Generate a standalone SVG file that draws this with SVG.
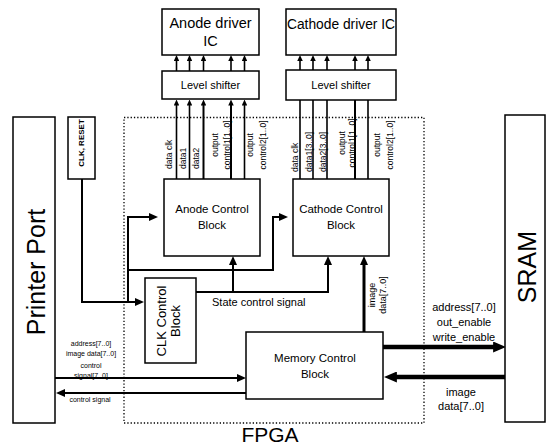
<svg xmlns="http://www.w3.org/2000/svg" width="556" height="448" viewBox="0 0 556 448">
<style>
.box{fill:#fff;stroke:#000;stroke-width:1.5}
.fpga{fill:none;stroke:#000;stroke-width:1.3;stroke-dasharray:1.3 2}
.t{font-family:"Liberation Sans",Arial,sans-serif;fill:#000}
.c{text-anchor:middle}
.w1{fill:none;stroke:#000;stroke-width:1.6}
.w2{fill:none;stroke:#000;stroke-width:2}
.w3{fill:none;stroke:#000;stroke-width:3}
.w4{fill:none;stroke:#000;stroke-width:4.5}
.s{marker-end:url(#as)}
.m{marker-end:url(#am)}
.b{marker-end:url(#ab)}
</style>
<defs>
<marker id="as" viewBox="0 0 10 10" refX="3" refY="5" markerWidth="6" markerHeight="5.5" markerUnits="userSpaceOnUse" orient="auto" preserveAspectRatio="none"><path d="M0,0 L10,5 L0,10 z"/></marker>
<marker id="am" viewBox="0 0 10 10" refX="3" refY="5" markerWidth="9" markerHeight="8" markerUnits="userSpaceOnUse" orient="auto" preserveAspectRatio="none"><path d="M0,0 L10,5 L0,10 z"/></marker>
<marker id="ab" viewBox="0 0 10 10" refX="3" refY="5" markerWidth="13" markerHeight="11" markerUnits="userSpaceOnUse" orient="auto" preserveAspectRatio="none"><path d="M0,0 L10,5 L0,10 z"/></marker>
</defs>
<rect width="556" height="448" fill="#fff"/>

<g id="fpga">
<rect class="fpga" x="124" y="117.5" width="300" height="305.5"/>
<text class="t c" x="270" y="442" font-size="21">FPGA</text>
</g>

<g id="connectors">
<!-- level shifter to driver IC -->
<line class="w1 s" x1="176.5" y1="71" x2="176.5" y2="59.2"/>
<line class="w1 s" x1="189.5" y1="71" x2="189.5" y2="59.2"/>
<line class="w1 s" x1="203.5" y1="71" x2="203.5" y2="59.2"/>
<line class="w1 s" x1="231" y1="71" x2="231" y2="59.2"/>
<line class="w1 s" x1="244.5" y1="71" x2="244.5" y2="59.2"/>
<line class="w1 s" x1="300" y1="70" x2="300" y2="59.2"/>
<line class="w1 s" x1="313" y1="70" x2="313" y2="59.2"/>
<line class="w1 s" x1="327" y1="70" x2="327" y2="59.2"/>
<line class="w1 s" x1="355" y1="70" x2="355" y2="59.2"/>
<line class="w1 s" x1="368" y1="70" x2="368" y2="59.2"/>
<!-- anode control to level shifter -->
<line class="w1 s" x1="176.5" y1="179" x2="176.5" y2="103.7"/>
<line class="w1 s" x1="189.5" y1="179" x2="189.5" y2="103.7"/>
<line class="w2 s" x1="203.5" y1="179" x2="203.5" y2="103.7"/>
<line class="w2 s" x1="231" y1="179" x2="231" y2="103.7"/>
<line class="w1 s" x1="244.5" y1="179" x2="244.5" y2="103.7"/>
<!-- cathode control to level shifter -->
<line class="w1" x1="300" y1="179" x2="300" y2="100"/>
<line class="w1" x1="313" y1="179" x2="313" y2="100"/>
<line class="w1" x1="327" y1="179" x2="327" y2="100"/>
<line class="w2" x1="355" y1="179" x2="355" y2="100"/>
<line class="w1" x1="368" y1="179" x2="368" y2="100"/>
<!-- CLK, RESET distribution -->
<polyline class="w2 m" points="82,179 82,302 137.7,302"/>
<polyline class="w2 m" points="128,302 128,217 151.7,217"/>
<polyline class="w2 m" points="128,270 273,270 273,217 281.7,217"/>
<!-- state control signal -->
<polyline class="w2 m" points="196,292 328,292 328,262.3"/>
<line class="w2 m" x1="233" y1="292" x2="233" y2="262.3"/>
<!-- image data to cathode control -->
<line class="w3 m" x1="364" y1="332" x2="364" y2="262.3"/>
<!-- memory to SRAM -->
<line class="w4 b" x1="383" y1="347" x2="497" y2="347"/>
<line class="w4 b" x1="505" y1="377" x2="393" y2="377"/>
<!-- printer port to memory -->
<line class="w2 m" x1="55" y1="378" x2="239.7" y2="378"/>
<line class="w2 m" x1="246" y1="393" x2="62.3" y2="393"/>
</g>

<g id="anode-driver">
<rect class="box" x="162" y="9" width="97" height="46"/>
<text class="t c" x="210.5" y="28" font-size="14.5">Anode driver</text>
<text class="t c" x="210.5" y="46" font-size="14.5">IC</text>
</g>
<g id="cathode-driver">
<rect class="box" x="286" y="9" width="110" height="46"/>
<text class="t c" x="341" y="29" font-size="13.8">Cathode driver IC</text>
</g>
<g id="anode-level-shifter">
<rect class="box" x="162" y="71" width="97" height="28"/>
<text class="t c" x="210.5" y="89" font-size="11">Level shifter</text>
</g>
<g id="cathode-level-shifter">
<rect class="box" x="286" y="70" width="110" height="30"/>
<text class="t c" x="341" y="89" font-size="11">Level shifter</text>
</g>

<g id="anode-labels" class="t" font-size="8.5">
<text x="172" y="169" transform="rotate(-90 172 169)">data clk</text>
<text x="186" y="169" transform="rotate(-90 186 169)">data1</text>
<text x="199" y="169" transform="rotate(-90 199 169)">data2</text>
<text class="c" x="218" y="145" transform="rotate(-90 218 145)">output</text>
<text class="c" x="230" y="145" transform="rotate(-90 230 145)">control1[1..0]</text>
<text class="c" x="253" y="145" transform="rotate(-90 253 145)">output</text>
<text class="c" x="266" y="145" transform="rotate(-90 266 145)">control2[1..0]</text>
</g>
<g id="cathode-labels" class="t" font-size="8.5">
<text x="298" y="172" transform="rotate(-90 298 172)">data clk</text>
<text x="312" y="172" transform="rotate(-90 312 172)">data1[3..0]</text>
<text x="326" y="172" transform="rotate(-90 326 172)">data2[3..0]</text>
<text class="c" x="345" y="143" transform="rotate(-90 345 143)">output</text>
<text class="c" x="355" y="143" transform="rotate(-90 355 143)">control1[1..0]</text>
<text class="c" x="380" y="145" transform="rotate(-90 380 145)">output</text>
<text class="c" x="393" y="145" transform="rotate(-90 393 145)">control2[1..0]</text>
</g>

<g id="anode-control">
<rect class="box" x="164" y="179" width="96" height="77"/>
<text class="t c" x="212" y="213" font-size="11.5">Anode Control</text>
<text class="t c" x="212" y="229" font-size="11.5">Block</text>
</g>
<g id="cathode-control">
<rect class="box" x="293" y="179" width="96" height="77"/>
<text class="t c" x="341" y="213" font-size="11.5">Cathode Control</text>
<text class="t c" x="341" y="229" font-size="11.5">Block</text>
</g>
<g id="clk-reset">
<rect class="box" x="68" y="117" width="27" height="62"/>
<text class="t c" x="84" y="143" font-size="8" font-weight="bold" transform="rotate(-90 84 143)">CLK, RESET</text>
</g>
<g id="clk-control">
<rect class="box" x="145" y="278" width="51" height="85"/>
<text class="t c" x="166" y="321" font-size="13" transform="rotate(-90 166 321)">CLK Control</text>
<text class="t c" x="180" y="321" font-size="13" transform="rotate(-90 180 321)">Block</text>
</g>
<g id="memory-control">
<rect class="box" x="246" y="332" width="137" height="67"/>
<text class="t c" x="315" y="362" font-size="11.5">Memory Control</text>
<text class="t c" x="315" y="378" font-size="11.5">Block</text>
</g>
<g id="printer-port">
<rect class="box" x="13" y="117" width="42" height="306"/>
<text class="t c" x="45" y="272" font-size="25" transform="rotate(-90 45 272)">Printer Port</text>
</g>
<g id="sram">
<rect class="box" x="505" y="115" width="40" height="307"/>
<text class="t c" x="536" y="267" font-size="25" transform="rotate(-90 536 267)">SRAM</text>
</g>

<g id="labels" class="t">
<text x="212" y="306" font-size="11">State control signal</text>
<text class="c" x="375" y="295" font-size="9" transform="rotate(-90 375 295)">image</text>
<text class="c" x="386" y="295" font-size="9" transform="rotate(-90 386 295)">data[7..0]</text>
<text class="c" x="464" y="311" font-size="11">address[7..0]</text>
<text class="c" x="464" y="326" font-size="11">out_enable</text>
<text class="c" x="464" y="341" font-size="11">write_enable</text>
<text class="c" x="461" y="396" font-size="11">image</text>
<text class="c" x="461" y="410" font-size="11">data[7..0]</text>
<text class="c" x="91" y="345.5" font-size="7">address[7..0]</text>
<text class="c" x="91" y="355.5" font-size="7">image data[7..0]</text>
<text class="c" x="91" y="367.5" font-size="7">control</text>
<text class="c" x="91" y="377.5" font-size="7">signal[7..0]</text>
<text class="c" x="90" y="401.5" font-size="7">control signal</text>
</g>
</svg>
